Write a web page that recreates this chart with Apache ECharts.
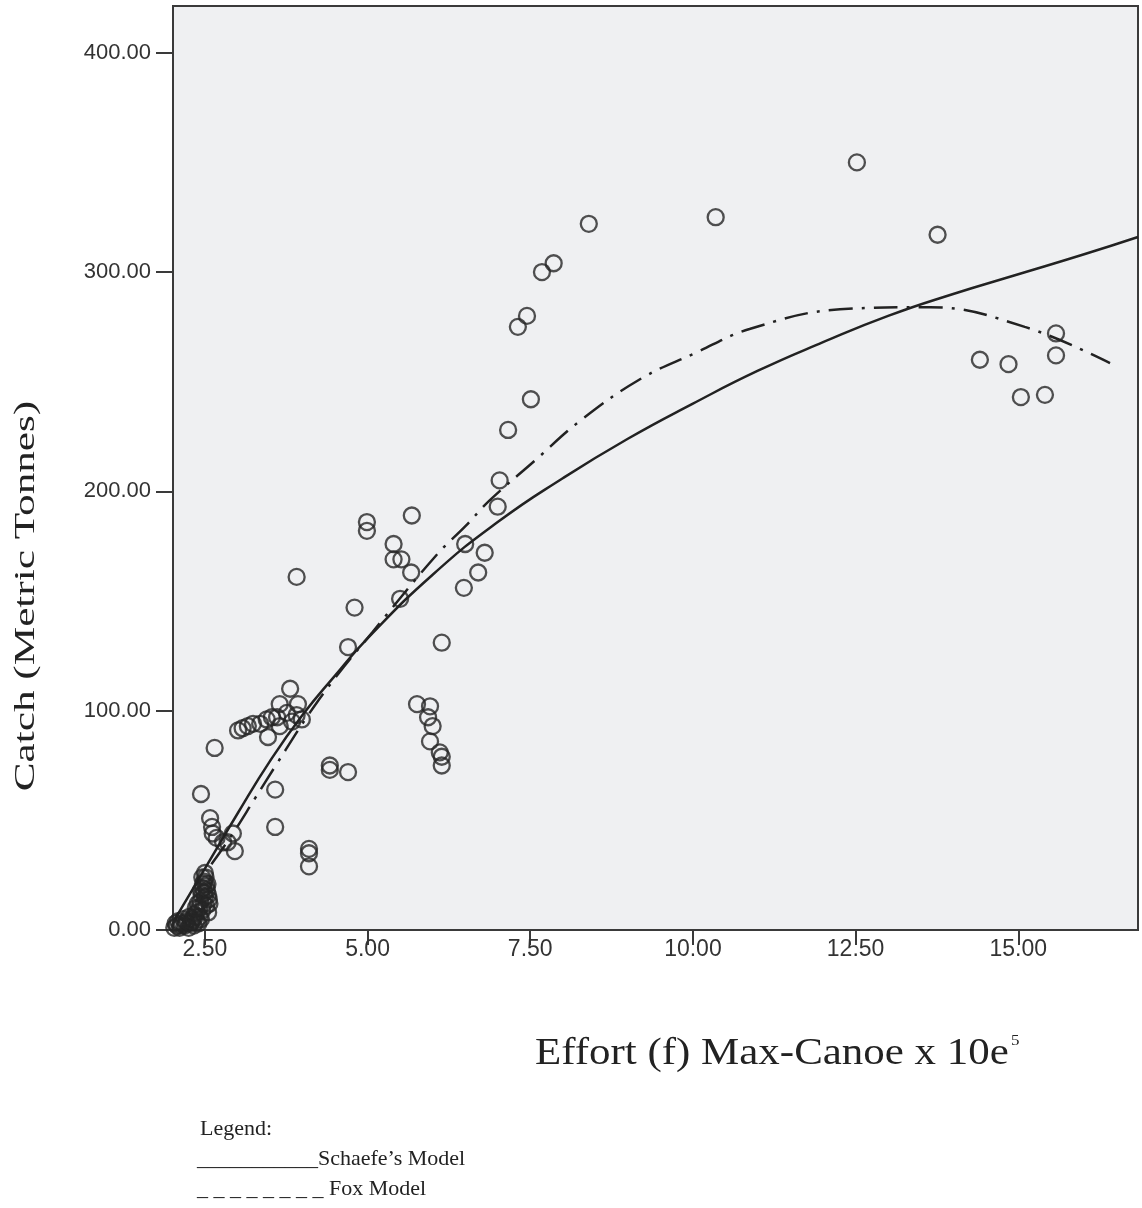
<!DOCTYPE html>
<html>
<head>
<meta charset="utf-8">
<script src="https://cdn.jsdelivr.net/npm/echarts@6/dist/echarts.min.js"></script>
<style>
  html, body { margin: 0; padding: 0; background: #fff; }
  #main { width: 1142px; height: 1208px; }
</style>
</head>
<body>
<div id="main"></div>
<script>
// observed points (effort, catch)
var obsEffort = [
  2.03, 2.07, 2.11, 2.15, 2.19, 2.22, 2.25, 2.28, 2.31, 2.33, 2.35, 2.37, 2.38, 2.40, 2.41,
  2.42, 2.43, 2.44, 2.45, 2.46, 2.47, 2.48, 2.49, 2.50, 2.51, 2.52, 2.53, 2.54, 2.55, 2.56,
  2.05, 2.09, 2.13, 2.17, 2.21, 2.26, 2.30, 2.34, 2.36, 2.39, 2.44, 2.47, 2.50, 2.52, 2.55, 2.57, 2.49, 2.46,
  2.58, 2.61, 2.62, 2.68, 2.78, 2.85, 2.93, 2.96, 2.44, 2.65,
  3.01, 3.08, 3.16, 3.24, 3.35, 3.45, 3.53, 3.61, 3.76, 3.47, 3.65, 3.84, 3.91, 3.99, 3.81, 3.65, 3.93,
  3.58, 3.58, 4.10, 4.10, 4.10,
  3.91, 4.80, 4.70, 4.42, 4.42, 4.70,
  4.99, 4.99, 5.68, 5.40, 5.40, 5.52, 5.67, 5.50,
  5.76, 5.96, 5.93, 6.00, 5.96, 6.11, 6.14, 6.14,
  6.14, 6.50, 6.48, 6.70, 6.80, 7.00, 7.03, 7.16, 7.51,
  7.31, 7.45, 7.68, 7.86, 8.40, 10.35, 12.52, 13.76,
  14.41, 14.85, 15.04, 15.41, 15.58, 15.58
];
var obsCatch = [
  1, 2, 1, 3, 2, 4, 1, 3, 5, 2, 6, 4, 8, 3, 10,
  6, 13, 5, 16, 9, 19, 12, 22, 15, 24, 11, 18, 21, 8, 14,
  3, 4, 2, 5, 3, 6, 4, 7, 10, 12, 18, 21, 26, 20, 16, 12, 17, 24,
  51, 47, 44, 42, 40, 40, 44, 36, 62, 83,
  91, 92, 93, 94, 94, 96, 97, 97, 99, 88, 93, 95, 98, 96, 110, 103, 103,
  64, 47, 37, 35, 29,
  161, 147, 129, 75, 73, 72,
  186, 182, 189, 176, 169, 169, 163, 151,
  103, 102, 97, 93, 86, 81, 79, 75,
  131, 176, 156, 163, 172, 193, 205, 228, 242,
  275, 280, 300, 304, 322, 325, 350, 317,
  260, 258, 243, 244, 272, 262
];

// Schaefer model curve (solid)
var schaefeEffort = [2.04, 2.5, 3.0, 3.5, 4.0, 4.5, 5.0, 6.0, 7.0, 8.0, 9.0, 10.0, 11.0, 12.0, 13.0, 14.0, 15.0, 16.0, 16.84];
var schaefeCatch  = [5, 28, 53, 77, 98, 116, 133, 162, 186, 206, 224, 240, 255, 268, 280, 290, 299, 308, 316];

// Fox model curve (dash-dot)
var foxEffort = [2.60, 2.93, 3.27, 3.61, 4.11, 4.53, 5.08, 6.06, 6.50, 6.88, 7.57, 8.26, 9.18, 10.03, 10.87, 12.26, 13.64, 15.10, 16.41];
var foxCatch  = [30, 44, 60, 76, 99, 116, 136, 171, 184, 196, 214, 232, 251, 263, 274, 283, 284, 275, 258.5];

var xTicks = [2.5, 5, 7.5, 10, 12.5, 15];
var yTicks = [0, 100, 200, 300, 400];

function zip(a, b) {
  var out = [];
  for (var i = 0; i < a.length; i++) out.push([a[i], b[i]]);
  return out;
}

var chart = echarts.init(document.getElementById('main'), null, { renderer: 'canvas' });

var option = {
  backgroundColor: '#ffffff',
  animation: false,
  grid: {
    left: 173, top: 6, right: 4, bottom: 278,
    show: true,
    backgroundColor: '#eff0f2',
    borderColor: '#3a3a3a',
    borderWidth: 2
  },
  xAxis: {
    type: 'value',
    min: 2.01,
    max: 16.84,
    axisLine: { show: true, onZero: false, lineStyle: { color: '#3a3a3a', width: 2 } },
    axisTick: { show: true, length: 15, customValues: xTicks, lineStyle: { color: '#3a3a3a', width: 2 } },
    axisLabel: {
      customValues: xTicks,
      margin: 8,
      color: '#333',
      fontFamily: 'Liberation Sans Narrow, Liberation Sans, Arial',
      fontSize: 23,
      formatter: function (v) { return v.toFixed(2); }
    },
    splitLine: { show: false }
  },
  yAxis: {
    type: 'value',
    min: 0,
    max: 421.3,
    axisLine: { show: true, lineStyle: { color: '#3a3a3a', width: 2 } },
    axisTick: { show: true, length: 17, customValues: yTicks, lineStyle: { color: '#3a3a3a', width: 2 } },
    axisLabel: {
      customValues: yTicks,
      margin: 22,
      color: '#333',
      fontFamily: 'Liberation Sans, Arial',
      fontSize: 22,
      formatter: function (v) { return v.toFixed(2); }
    },
    splitLine: { show: false }
  },
  series: [
    {
      name: 'Observed',
      type: 'scatter',
      data: zip(obsEffort, obsCatch),
      symbol: 'circle',
      symbolSize: 16,
      itemStyle: { color: 'rgba(0,0,0,0)', borderColor: '#262626', borderWidth: 2.3 },
      z: 3
    },
    {
      name: "Schaefe's Model",
      type: 'line',
      data: zip(schaefeEffort, schaefeCatch),
      smooth: 0.5,
      showSymbol: false,
      lineStyle: { color: '#222', width: 2.5, type: 'solid' },
      z: 4
    },
    {
      name: 'Fox Model',
      type: 'line',
      data: zip(foxEffort, foxCatch),
      smooth: 0.4,
      showSymbol: false,
      lineStyle: { color: '#222', width: 2.5, type: [24, 9, 3, 9] },
      z: 4
    }
  ],
  graphic: [
    {
      type: 'text',
      x: 26, y: 596,
      rotation: Math.PI / 2,
      scaleX: 1.44,
      style: {
        text: 'Catch (Metric Tonnes)',
        font: '30px "Liberation Serif", "Times New Roman", serif',
        fill: '#222',
        align: 'center',
        verticalAlign: 'middle'
      }
    },
    {
      type: 'text',
      x: 535, y: 1054,
      scaleX: 1.13,
      style: {
        text: 'Effort (f) Max-Canoe x 10e{s|5}',
        font: '38px "Liberation Serif", "Times New Roman", serif',
        fill: '#222',
        align: 'left',
        verticalAlign: 'middle',
        rich: {
          s: { fontSize: 15, fontFamily: 'Liberation Serif', verticalAlign: 'top', padding: [0, 0, 26, 2], fill: '#222' }
        }
      }
    },
    {
      type: 'text',
      x: 200, y: 1129,
      style: { text: 'Legend:', font: '22px "Liberation Serif", serif', fill: '#222', verticalAlign: 'middle' }
    },
    {
      type: 'text',
      x: 197, y: 1159,
      style: { text: '___________Schaefe\u2019s Model', font: '22px "Liberation Serif", serif', fill: '#222', verticalAlign: 'middle' }
    },
    {
      type: 'text',
      x: 197, y: 1189,
      style: { text: '_ _ _ _ _ _ _ _ Fox Model', font: '22px "Liberation Serif", serif', fill: '#222', verticalAlign: 'middle' }
    }
  ]
};

chart.setOption(option);
</script>
</body>
</html>
